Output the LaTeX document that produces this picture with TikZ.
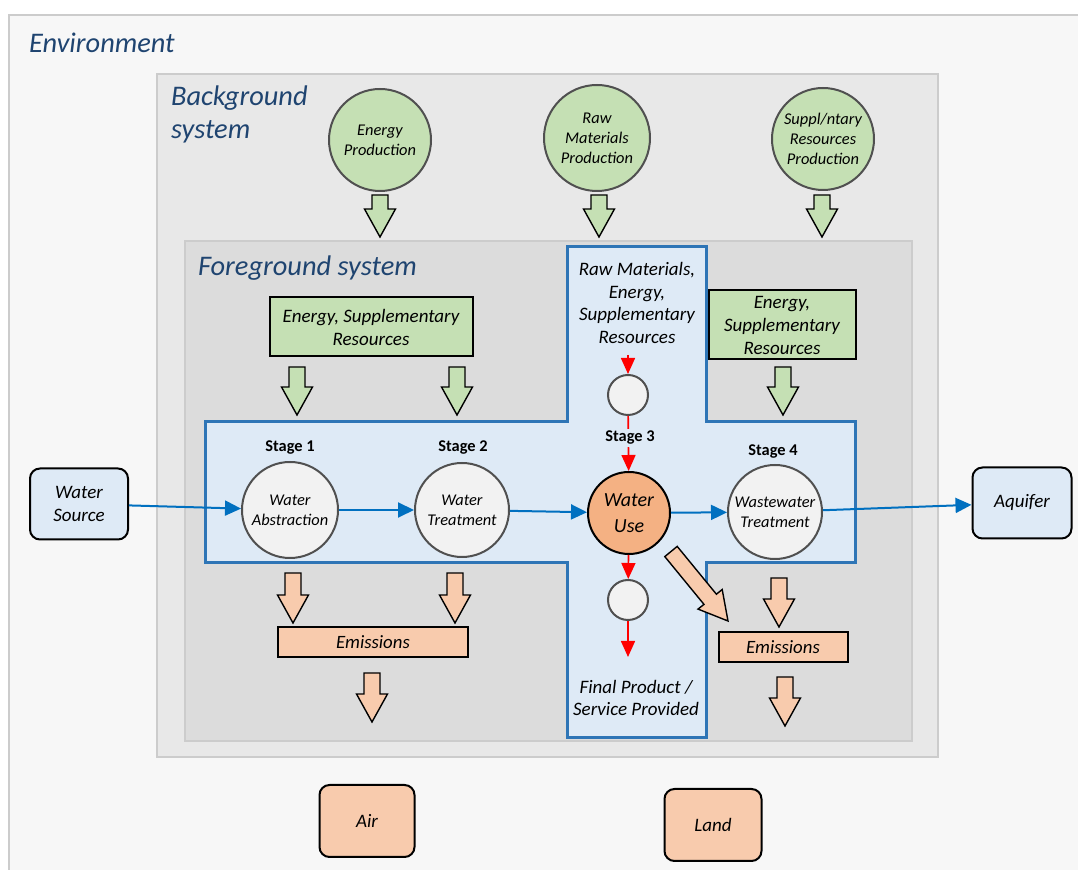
\documentclass[tikz,border=0pt]{standalone}
\usepackage{fontspec}
\setmainfont{Carlito}
\usepackage{xcolor}
\usepackage{tikz}
\usetikzlibrary{shapes,arrows.meta}
\definecolor{envfill}{HTML}{F7F7F7}
\definecolor{bgfill}{HTML}{E8E8E8}
\definecolor{fgfill}{HTML}{DCDCDC}
\definecolor{boxedge}{HTML}{CCCCCC}
\definecolor{crossfill}{HTML}{DEEAF6}
\definecolor{crossedge}{HTML}{2E75B6}
\definecolor{greenfill}{HTML}{C5E0B4}
\definecolor{orangefill}{HTML}{F8CBAD}
\definecolor{usefill}{HTML}{F4B183}
\definecolor{stagefill}{HTML}{F2F2F2}
\definecolor{circedge}{HTML}{505050}
\definecolor{titleblue}{HTML}{1F4470}
\definecolor{flowblue}{HTML}{0070C0}
\tikzstyle{title} = [text=titleblue, font=\fontsize{14.2}{16.5}\selectfont\itshape, anchor=west, align=left]
\tikzstyle{stage} = [circle, draw=circedge, line width=1pt, fill=stagefill, inner sep=0pt, align=center, font=\fontsize{8.2}{10}\selectfont\itshape]
\tikzstyle{prod} = [circle, draw=circedge, line width=1pt, fill=greenfill, inner sep=0pt, align=center, font=\fontsize{8.2}{10}\selectfont\itshape]
\tikzstyle{greenbox} = [rectangle, draw, line width=1pt, fill=greenfill, align=center, font=\fontsize{9.5}{11.5}\selectfont\itshape]
\tikzstyle{emis} = [rectangle, draw, line width=1pt, fill=orangefill, font=\fontsize{9.4}{10}\selectfont\itshape]
\tikzstyle{ext} = [rectangle, rounded corners=5pt, draw, line width=1pt, align=center, font=\fontsize{9.5}{11.5}\selectfont\itshape]
\tikzstyle{lbl} = [font=\fontsize{8.2}{9}\selectfont\bfseries, inner sep=1pt]
\tikzstyle{txt} = [align=center, font=\fontsize{9.5}{11.2}\selectfont\itshape]
\tikzstyle{flow} = [draw, flowblue, line width=1pt, -{Triangle[length=8pt,width=7.5pt]}]
\tikzstyle{sub} = [draw, red, line width=0.8pt, -{Triangle[length=8pt,width=7pt]}]
\tikzstyle{blk} = [draw, line width=0.7pt]

\begin{document}
\begin{tikzpicture}[x=0.5pt, y=-0.5pt]
\useasboundingbox (0,0) rectangle (1078,870);
\fill[white] (0,0) rectangle (1078,870);
% nested system boxes
\draw[fill=envfill, draw=boxedge, line width=1pt] (9,15) rectangle (1090,885);
\draw[fill=bgfill, draw=boxedge, line width=0.8pt] (157,74) rectangle (938,757);
\draw[fill=fgfill, draw=boxedge, line width=0.8pt] (185,241) rectangle (912,741);
\draw[fill=crossfill, draw=crossedge, line width=1.5pt] (567,247) -- (706,247) -- (706,422) -- (855,422) -- (855,563) -- (706,563) -- (706,738) -- (567,738) -- (567,563) -- (205,563) -- (205,422) -- (567,422) -- cycle;
\node [title] (env) at (22,43) {Environment};
\node [title] (bg) at (164,114) {Background\\system};
\node [title] (fg) at (191,268) {Foreground system};

% production circles
\node [prod, minimum size=51pt] (eprod) at (380,140) {Energy\\Production};
\node [prod, minimum size=53pt] (rprod) at (597,138) {Raw\\Materials\\Production};
\node [prod, minimum size=51pt] (sprod) at (823,139) {Suppl/ntary\\Resources\\Production};

% inputs
\node [greenbox, minimum width=101.5pt, minimum height=29.5pt] (inl) at (371,327) {Energy, Supplementary\\Resources};
\node [greenbox, minimum width=73.5pt, minimum height=34.5pt, inner sep=1pt] (inr) at (782,325) {Energy,\\Supplementary\\Resources};
\node [txt] (rawin) at (637,303) {Raw Materials,\\Energy,\\Supplementary\\Resources};
\coordinate (rawend) at (628,355);

% stages
\node [stage, minimum size=48pt] (wabs) at (290,510) {Water\\Abstraction};
\node [stage, minimum size=47pt] (wtrt) at (462,510) {Water\\Treatment};
\node [circle, draw, line width=1pt, fill=usefill, minimum size=41pt, inner sep=0pt, align=center, font=\fontsize{10}{13}\selectfont\itshape] (wuse) at (629,513) {Water\\Use};
\node [stage, minimum size=47pt] (wwt) at (775,512) {Wastewater\\Treatment};
\node [stage, minimum size=20pt] (scin) at (628,395) {};
\node [stage, minimum size=20pt] (scout) at (628,600) {};
\node [txt] (fprod) at (636,698) {Final Product /\\Service Provided};
\coordinate (fpend) at (628,657);

% external boxes
\node [ext, fill=crossfill, minimum width=49pt, minimum height=35.5pt] (wsrc) at (79,504) {Water\\Source};
\node [ext, fill=crossfill, minimum width=49.5pt, minimum height=35.5pt] (aqui) at (1022,503) {Aquifer};
\node [ext, fill=orangefill, minimum width=47.5pt, minimum height=36pt] (air) at (367,821) {Air};
\node [ext, fill=orangefill, minimum width=48.5pt, minimum height=36pt] (land) at (713,825) {Land};
\node [emis, minimum width=95pt, minimum height=15pt] (emil) at (373,642) {Emissions};
\node [emis, minimum width=64.5pt, minimum height=15pt] (emir) at (783,647) {Emissions};

% water flow
\path [flow] (wsrc) -- (wabs);
\path [flow] (wabs) -- (wtrt);
\path [flow] (wtrt) -- (wuse);
\path [flow] (wuse) -- (wwt);
\path [flow] (wwt) -- (aqui);
\path [sub] (rawend) -- (scin);
\path [sub] (scin) -- (wuse);
\path [sub] (wuse) -- (scout);
\path [sub] (scout) -- (fpend);

% stage labels
\node [lbl] (st1) at (290,448) {Stage 1};
\node [lbl] (st2) at (463,448) {Stage 2};
\node [lbl, fill=crossfill] (st3) at (630,438) {Stage 3};
\node [lbl] (st4) at (773,452) {Stage 4};

% block arrows
\foreach \x/\ya/\yb in {380/195/237, 599/195/237, 822/195/237, 297/367/415, 457/367/415, 783/367/415}
  \path [blk, fill=greenfill] ({\x-8},\ya) -- ({\x+8},\ya) -- ({\x+8},{\yb-28}) -- ({\x+15.5},{\yb-28}) -- (\x,\yb) -- ({\x-15.5},{\yb-28}) -- ({\x-8},{\yb-28}) -- cycle;
\foreach \x/\ya/\yb in {293/573/623, 455/573/623, 372/673/722, 779/578/627, 785/677/726}
  \path [blk, fill=orangefill] ({\x-8},\ya) -- ({\x+8},\ya) -- ({\x+8},{\yb-28}) -- ({\x+15.5},{\yb-28}) -- (\x,\yb) -- ({\x-15.5},{\yb-28}) -- ({\x-8},{\yb-28}) -- cycle;
\path [blk, fill=orangefill] (677.2,546.4) -- (716.4,594.2) -- (722.2,589.5) -- (728,621) -- (698,609.1) -- (704,604.4) -- (664.8,556.6) -- cycle;
\end{tikzpicture}
\end{document}
